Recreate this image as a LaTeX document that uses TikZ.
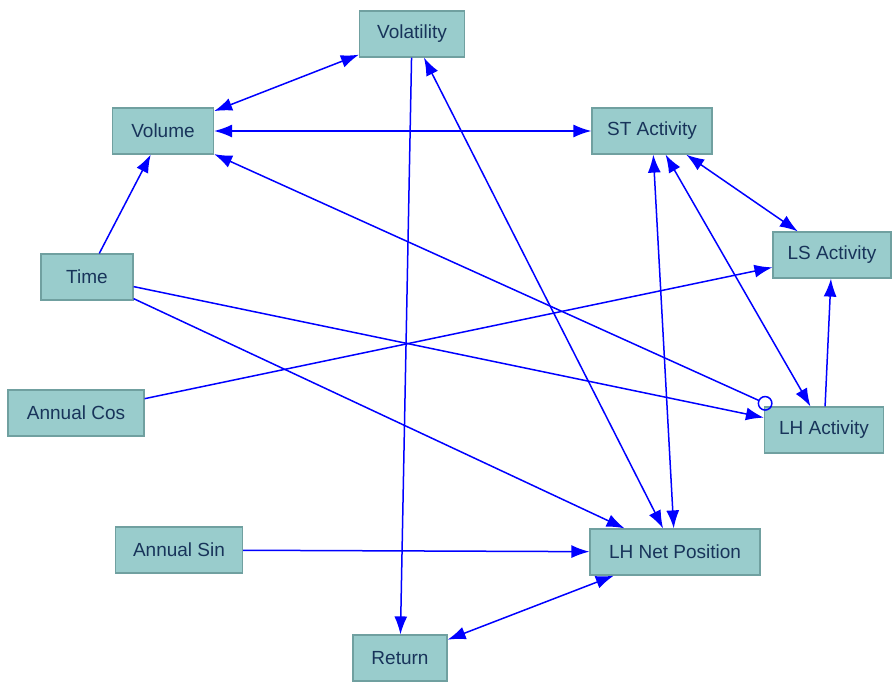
\documentclass[tikz,border=0pt]{standalone}
\usepackage{fontspec}
\setmainfont{Liberation Sans}
\usetikzlibrary{arrows.meta}

\definecolor{boxfill}{RGB}{153,204,204}
\definecolor{boxline}{RGB}{112,160,160}
\definecolor{boxtext}{RGB}{24,52,90}

\tikzset{
    var/.style={draw=boxline, fill=boxfill, text=boxtext, line width=1.2pt,
        minimum height=46pt, inner xsep=0pt, font=\fontsize{19}{22}\selectfont},
    link/.style={draw=blue, line width=1.5pt, >={Latex[length=18pt,width=13pt]}},
}

\begin{document}
\begin{tikzpicture}[x=1pt,y=-1pt]
    \useasboundingbox (0,0) rectangle (893,683);

    % variables
    \node[var, minimum width=105pt] (volat) at (412,34) {Volatility};
    \node[var, minimum width=101pt] (volume) at (163,131) {Volume};
    \node[var, minimum width=120pt] (stact) at (652,131) {ST Activity};
    \node[var, minimum width=118pt] (lsact) at (832,255) {LS Activity};
    \node[var, minimum width=92pt] (time) at (87,277) {Time};
    \node[var, minimum width=136pt] (acos) at (76,413) {Annual Cos};
    \node[var, minimum width=119pt] (lhact) at (824,430) {LH Activity};
    \node[var, minimum width=127pt] (asin) at (179,550) {Annual Sin};
    \node[var, minimum width=170pt] (lhnet) at (675,552) {LH Net Position};
    \node[var, minimum width=94pt] (ret) at (400,658) {Return};

    % links
    \draw[link,<->] (volume) -- (volat);
    \draw[link,<->] (volume) -- (stact);
    \draw[link,->] (volat) -- (ret);
    \draw[link,<->] (volat) -- (lhnet);
    \draw[link,<->] (stact) -- (lhnet);
    \draw[link,<->] (stact) -- (lsact);
    \draw[link,<->] (stact) -- (lhact);
    \draw[link,->] (lhact) -- (lsact);
    \draw[link,->] (time) -- (volume);
    \draw[link,->] (time) -- (lhact);
    \draw[link,->] (time) -- (lhnet);
    \draw[link,->] (acos) -- (lsact);
    \draw[link,->] (asin) -- (lhnet);
    \draw[link,<->] (ret) -- (lhnet);
    \draw[link,{Circle[open,length=15pt,width=15pt]}->] (lhact) -- (volume);
\end{tikzpicture}
\end{document}
